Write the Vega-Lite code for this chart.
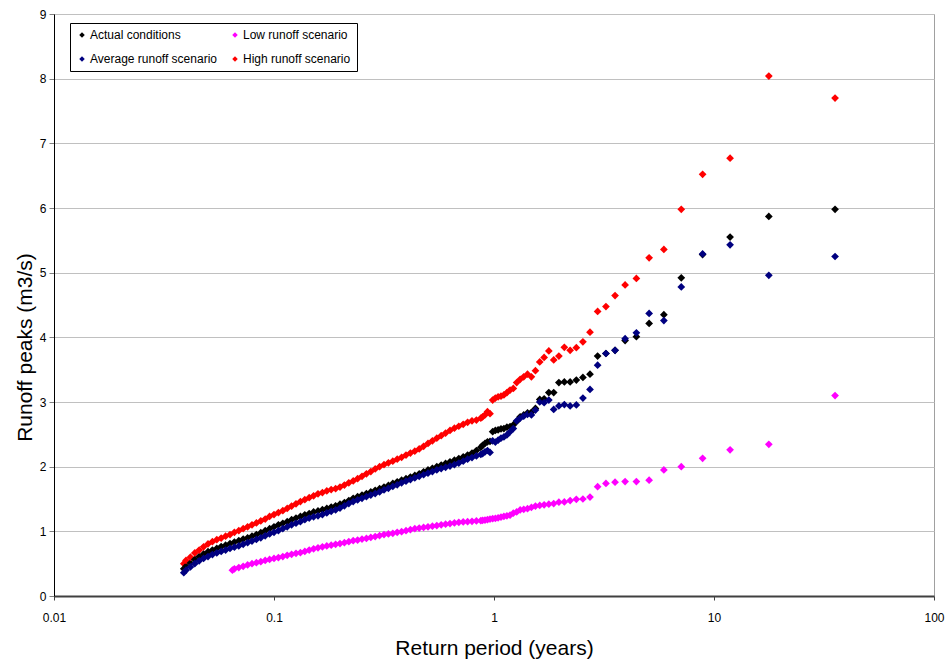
{
  "$schema": "https://vega.github.io/schema/vega-lite/v6.json",
  "width": 880,
  "height": 582,
  "autosize": "none",
  "padding": {"left": 54, "top": 14, "right": 12, "bottom": 65},
  "background": "white",
  "config": {"font": "Liberation Sans", "view": {"stroke": "#a0a0a0"}},
  "data": {"values": [
    {"T":0.0389,"a":0.42,"m":0.36,"h":0.50},
    {"T":0.03981,"a":0.46,"m":0.40,"h":0.55},
    {"T":0.04169,"a":0.51,"m":0.45,"h":0.60},
    {"T":0.04365,"a":0.565,"m":0.50,"h":0.665},
    {"T":0.04571,"a":0.61,"m":0.545,"h":0.71},
    {"T":0.04786,"a":0.65,"m":0.58,"h":0.76},
    {"T":0.05012,"a":0.685,"m":0.61,"h":0.805},
    {"T":0.05248,"a":0.71,"m":0.64,"h":0.84},
    {"T":0.05495,"a":0.735,"m":0.665,"h":0.87},
    {"T":0.05754,"a":0.765,"m":0.69,"h":0.895},
    {"T":0.06026,"a":0.785,"m":0.71,"h":0.925},
    {"T":0.0631,"a":0.81,"m":0.735,"h":0.95},
    {"T":0.0647,"l":0.40},
    {"T":0.06607,"a":0.835,"l":0.42,"m":0.755,"h":0.985},
    {"T":0.06918,"a":0.855,"l":0.44,"m":0.775,"h":1.01},
    {"T":0.07244,"a":0.88,"l":0.46,"m":0.80,"h":1.04},
    {"T":0.07586,"a":0.90,"l":0.48,"m":0.825,"h":1.07},
    {"T":0.07943,"a":0.925,"l":0.50,"m":0.85,"h":1.10},
    {"T":0.08318,"a":0.95,"l":0.515,"m":0.875,"h":1.13},
    {"T":0.0871,"a":0.98,"l":0.53,"m":0.90,"h":1.16},
    {"T":0.0912,"a":1.01,"l":0.55,"m":0.93,"h":1.19},
    {"T":0.0955,"a":1.04,"l":0.565,"m":0.96,"h":1.23},
    {"T":0.1,"a":1.07,"l":0.58,"m":0.985,"h":1.26},
    {"T":0.10471,"a":1.10,"l":0.595,"m":1.01,"h":1.29},
    {"T":0.10965,"a":1.125,"l":0.61,"m":1.04,"h":1.32},
    {"T":0.11482,"a":1.15,"l":0.63,"m":1.07,"h":1.355},
    {"T":0.12023,"a":1.18,"l":0.645,"m":1.10,"h":1.39},
    {"T":0.12589,"a":1.205,"l":0.66,"m":1.125,"h":1.425},
    {"T":0.13183,"a":1.23,"l":0.67,"m":1.15,"h":1.46},
    {"T":0.13804,"a":1.255,"l":0.69,"m":1.18,"h":1.49},
    {"T":0.14454,"a":1.275,"l":0.71,"m":1.205,"h":1.52},
    {"T":0.15136,"a":1.30,"l":0.73,"m":1.225,"h":1.55},
    {"T":0.15849,"a":1.315,"l":0.745,"m":1.24,"h":1.58},
    {"T":0.16596,"a":1.335,"l":0.76,"m":1.26,"h":1.60},
    {"T":0.17378,"a":1.355,"l":0.775,"m":1.285,"h":1.625},
    {"T":0.18197,"a":1.375,"l":0.785,"m":1.31,"h":1.645},
    {"T":0.19055,"a":1.395,"l":0.80,"m":1.33,"h":1.66},
    {"T":0.19953,"a":1.42,"l":0.81,"m":1.36,"h":1.685},
    {"T":0.20893,"a":1.445,"l":0.825,"m":1.395,"h":1.715},
    {"T":0.21878,"a":1.475,"l":0.84,"m":1.43,"h":1.75},
    {"T":0.22909,"a":1.51,"l":0.855,"m":1.46,"h":1.78},
    {"T":0.23988,"a":1.535,"l":0.865,"m":1.485,"h":1.815},
    {"T":0.25119,"a":1.56,"l":0.88,"m":1.51,"h":1.85},
    {"T":0.26303,"a":1.585,"l":0.89,"m":1.535,"h":1.89},
    {"T":0.27542,"a":1.61,"l":0.905,"m":1.56,"h":1.925},
    {"T":0.2884,"a":1.635,"l":0.92,"m":1.585,"h":1.965},
    {"T":0.302,"a":1.66,"l":0.935,"m":1.61,"h":2.0},
    {"T":0.31623,"a":1.685,"l":0.95,"m":1.64,"h":2.03},
    {"T":0.33113,"a":1.71,"l":0.96,"m":1.665,"h":2.06},
    {"T":0.34674,"a":1.74,"l":0.97,"m":1.695,"h":2.085},
    {"T":0.36308,"a":1.765,"l":0.985,"m":1.72,"h":2.115},
    {"T":0.38019,"a":1.79,"l":0.995,"m":1.75,"h":2.145},
    {"T":0.39811,"a":1.815,"l":1.01,"m":1.775,"h":2.18},
    {"T":0.41687,"a":1.84,"l":1.025,"m":1.80,"h":2.21},
    {"T":0.43652,"a":1.865,"l":1.04,"m":1.825,"h":2.24},
    {"T":0.45709,"a":1.89,"l":1.05,"m":1.85,"h":2.275},
    {"T":0.47863,"a":1.92,"l":1.06,"m":1.875,"h":2.315},
    {"T":0.50119,"a":1.95,"l":1.07,"m":1.90,"h":2.36},
    {"T":0.52481,"a":1.975,"l":1.08,"m":1.925,"h":2.40},
    {"T":0.54954,"a":2.0,"l":1.09,"m":1.95,"h":2.44},
    {"T":0.57544,"a":2.025,"l":1.10,"m":1.97,"h":2.48},
    {"T":0.60256,"a":2.05,"l":1.11,"m":1.99,"h":2.52},
    {"T":0.63096,"a":2.075,"l":1.12,"m":2.01,"h":2.56},
    {"T":0.66069,"a":2.10,"l":1.13,"m":2.03,"h":2.595},
    {"T":0.69183,"a":2.125,"l":1.14,"m":2.055,"h":2.625},
    {"T":0.72444,"a":2.15,"l":1.145,"m":2.085,"h":2.655},
    {"T":0.75858,"a":2.18,"l":1.15,"m":2.115,"h":2.685},
    {"T":0.79433,"a":2.21,"l":1.155,"m":2.14,"h":2.71},
    {"T":0.83176,"a":2.25,"l":1.16,"m":2.165,"h":2.72},
    {"T":0.87096,"a":2.30,"l":1.165,"m":2.19,"h":2.75},
    {"T":0.8875,"a":2.33,"l":1.17,"m":2.20,"h":2.77},
    {"T":0.910,"a":2.36,"l":1.175,"m":2.23,"h":2.80},
    {"T":0.934,"a":2.385,"l":1.18,"m":2.25,"h":2.85},
    {"T":0.959,"a":2.39,"l":1.19,"m":2.22,"h":2.82},
    {"T":0.986,"a":2.54,"l":1.195,"m":2.40,"h":3.03},
    {"T":1.014,"a":2.56,"l":1.20,"m":2.38,"h":3.06},
    {"T":1.044,"a":2.57,"l":1.21,"m":2.41,"h":3.08},
    {"T":1.076,"a":2.585,"l":1.22,"m":2.44,"h":3.09},
    {"T":1.109,"a":2.59,"l":1.23,"m":2.46,"h":3.11},
    {"T":1.145,"a":2.61,"l":1.24,"m":2.49,"h":3.145},
    {"T":1.183,"a":2.62,"l":1.25,"m":2.54,"h":3.185},
    {"T":1.224,"a":2.645,"l":1.28,"m":2.59,"h":3.21},
    {"T":1.268,"a":2.70,"l":1.30,"m":2.71,"h":3.30},
    {"T":1.315,"a":2.77,"l":1.33,"m":2.75,"h":3.35},
    {"T":1.365,"a":2.80,"l":1.34,"m":2.78,"h":3.39},
    {"T":1.42,"a":2.83,"l":1.35,"m":2.81,"h":3.43},
    {"T":1.479,"a":2.84,"l":1.37,"m":2.80,"h":3.39},
    {"T":1.543,"a":2.90,"l":1.39,"m":2.875,"h":3.485},
    {"T":1.614,"a":3.04,"l":1.40,"m":3.0,"h":3.62},
    {"T":1.690,"a":3.05,"l":1.41,"m":2.99,"h":3.69},
    {"T":1.775,"a":3.145,"l":1.42,"m":3.03,"h":3.79},
    {"T":1.868,"a":3.145,"l":1.43,"m":2.885,"h":3.65},
    {"T":1.972,"a":3.30,"l":1.45,"m":2.94,"h":3.71},
    {"T":2.088,"a":3.31,"l":1.455,"m":2.96,"h":3.845},
    {"T":2.219,"a":3.31,"l":1.475,"m":2.94,"h":3.80},
    {"T":2.367,"a":3.34,"l":1.495,"m":2.955,"h":3.84},
    {"T":2.536,"a":3.38,"l":1.50,"m":3.06,"h":3.93},
    {"T":2.731,"a":3.43,"l":1.53,"m":3.195,"h":4.08},
    {"T":2.958,"a":3.71,"l":1.69,"m":3.57,"h":4.40},
    {"T":3.227,"a":3.75,"l":1.74,"m":3.75,"h":4.475},
    {"T":3.55,"a":3.80,"l":1.76,"m":3.80,"h":4.645},
    {"T":3.944,"a":3.95,"l":1.77,"m":3.98,"h":4.81},
    {"T":4.438,"a":4.01,"l":1.77,"m":4.07,"h":4.91},
    {"T":5.071,"a":4.215,"l":1.79,"m":4.37,"h":5.23},
    {"T":5.917,"a":4.35,"l":1.95,"m":4.26,"h":5.36},
    {"T":7.1,"a":4.92,"l":2.0,"m":4.78,"h":5.98},
    {"T":8.875,"a":5.28,"l":2.13,"m":5.29,"h":6.52},
    {"T":11.833,"a":5.55,"l":2.26,"m":5.43,"h":6.77},
    {"T":17.75,"a":5.87,"l":2.345,"m":4.96,"h":8.04},
    {"T":35.5,"a":5.98,"l":3.10,"m":5.25,"h":7.70}
  ]},
  "transform": [
    {"fold": ["a", "l", "m", "h"], "as": ["s", "v"]},
    {"filter": "isValid(datum.v)"}
  ],
  "mark": {"type": "point", "shape": "diamond", "filled": true, "size": 60, "opacity": 1},
  "encoding": {
    "x": {
      "field": "T", "type": "quantitative",
      "scale": {"type": "log", "domain": [0.01, 100]},
      "axis": {
        "title": "Return period (years)",
        "values": [0.01, 0.1, 1, 10, 100],
        "format": "~g",
        "grid": false,
        "domainColor": "#404040", "domainWidth": 2,
        "tickColor": "#404040", "tickSize": 4,
        "labelFontSize": 12, "labelColor": "black", "labelPadding": 12,
        "labelFlush": false,
        "titleFontSize": 21, "titleFontWeight": "normal", "titleColor": "black",
        "titlePadding": 14
      }
    },
    "y": {
      "field": "v", "type": "quantitative",
      "scale": {"domain": [0, 9], "nice": false},
      "axis": {
        "title": "Runoff peaks (m3/s)",
        "values": [0, 1, 2, 3, 4, 5, 6, 7, 8, 9],
        "grid": true, "gridColor": "#c0c0c0",
        "domainColor": "black",
        "tickColor": "#808080", "tickSize": 5,
        "labelFontSize": 12, "labelColor": "black", "labelPadding": 3,
        "titleFontSize": 21, "titleFontWeight": "normal", "titleColor": "black",
        "titlePadding": 4, "titleY": 333
      }
    },
    "color": {
      "field": "s", "type": "nominal",
      "scale": {"domain": ["a", "m", "l", "h"], "range": ["#000000", "#000080", "#ff00ff", "#ff0000"]},
      "legend": {
        "title": null,
        "orient": "none", "legendX": 16, "legendY": 9,
        "columns": 2,
        "fillColor": "white", "strokeColor": "black",
        "padding": 6,
        "labelFont": "Liberation Sans", "labelFontSize": 12, "labelColor": "black",
        "labelOffset": 2,
        "symbolType": "diamond", "symbolSize": 30, "symbolOpacity": 1,
        "columnPadding": 12, "rowPadding": 12,
        "labelExpr": "datum.label == 'a' ? 'Actual conditions' : datum.label == 'l' ? 'Low runoff scenario' : datum.label == 'm' ? 'Average runoff scenario' : 'High runoff scenario'"
      }
    }
  }
}
